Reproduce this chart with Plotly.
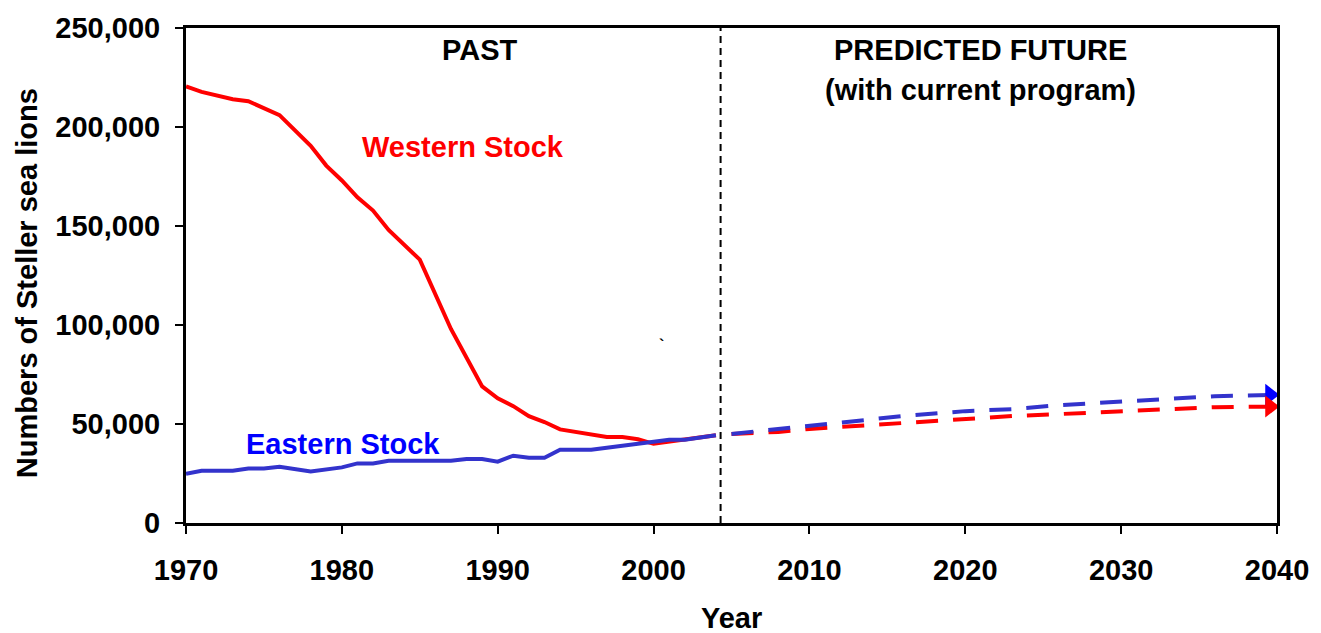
import plotly.graph_objects as go

# ---- data ----
past_years = [1970, 1971, 1973, 1974, 1976, 1978, 1979, 1980, 1981, 1982, 1983, 1985,
              1987, 1989, 1990, 1991, 1992, 1993, 1994, 1995, 1996, 1997, 1998, 1999,
              2000, 2001, 2002, 2003, 2004]
western_past = [220500, 217700, 214000, 213000, 206000, 190500, 180500, 173000, 164500,
                157800, 148000, 133000, 98000, 69000, 63000, 59000, 54000, 51000, 47300,
                46000, 44300, 43400, 43400, 42300, 40000, 41000, 42000, 43000, 44300]

east_years = [1970, 1971, 1973, 1974, 1975, 1976, 1978, 1980, 1981, 1982, 1983, 1987,
              1988, 1989, 1990, 1991, 1992, 1993, 1994, 1996, 1997, 1998, 1999, 2000,
              2001, 2002, 2003, 2004]
eastern_past = [24800, 26400, 26400, 27500, 27500, 28400, 26000, 28100, 30100, 30100,
                31400, 31400, 32300, 32300, 31000, 34000, 33000, 33000, 37000, 37000,
                38000, 39000, 40000, 41000, 42000, 42000, 43200, 44300]

future_years = [2005, 2008, 2010, 2013, 2016, 2020, 2023, 2026, 2029, 2032, 2036, 2040]
eastern_future = [45000, 47500, 49000, 52000, 54000, 56500, 57500, 59500, 61000, 62500, 64000, 64800]
western_future = [45000, 46000, 47500, 49000, 51000, 52500, 54000, 55000, 56000, 57500, 58500, 58800]

x_ticks = [1970, 1980, 1990, 2000, 2010, 2020, 2030, 2040]
y_ticks = [0, 50000, 100000, 150000, 200000, 250000]
y_tick_labels = ["0", "50,000", "100,000", "150,000", "200,000", "250,000"]
divider_year = 2004.3

RED = "#ff0000"
BLUE_LINE = "#3333cc"
BLUE_TEXT = "#0000ff"
FONT = "Liberation Sans, Arial, sans-serif"
FS = 29

fig = go.Figure()

fig.add_trace(go.Scatter(x=past_years, y=western_past, mode="lines",
                         line=dict(color=RED, width=4), showlegend=False))
fig.add_trace(go.Scatter(x=east_years, y=eastern_past, mode="lines",
                         line=dict(color=BLUE_LINE, width=4), showlegend=False))
fig.add_trace(go.Scatter(x=future_years, y=western_future, mode="lines",
                         line=dict(color=RED, width=4, dash="22px,15px"), showlegend=False))
fig.add_trace(go.Scatter(x=future_years, y=eastern_future, mode="lines",
                         line=dict(color=BLUE_LINE, width=4, dash="22px,15px"), showlegend=False))
# arrow heads
fig.add_trace(go.Scatter(x=[future_years[-1] - 0.45], y=[eastern_future[-1]], mode="markers",
                         marker=dict(symbol="triangle-right", size=19, color="#0000ff"),
                         cliponaxis=False, showlegend=False))
fig.add_trace(go.Scatter(x=[future_years[-1] - 0.45], y=[western_future[-1]], mode="markers",
                         marker=dict(symbol="triangle-right", size=19, color=RED),
                         cliponaxis=False, showlegend=False))

# divider
fig.add_shape(type="line", x0=divider_year, x1=divider_year, y0=0, y1=1, yref="paper",
              line=dict(color="black", width=2, dash="7px,5px"))

bold = dict(family=FONT, size=FS, color="black", weight="bold")

fig.add_annotation(x=1988.8, y=239000, text="PAST", showarrow=False, font=bold)
fig.add_annotation(x=2021.0, y=239000, text="PREDICTED FUTURE", showarrow=False, font=bold)
fig.add_annotation(x=2021.0, y=218500, text="(with current program)", showarrow=False, font=bold)
fig.add_annotation(x=1987.8, y=190000, text="Western Stock", showarrow=False,
                   font=dict(family=FONT, size=FS, color=RED, weight="bold"))
fig.add_annotation(x=1980.1, y=39800, text="Eastern Stock", showarrow=False,
                   font=dict(family=FONT, size=FS, color=BLUE_TEXT, weight="bold"))
fig.add_annotation(x=2000.5, y=89500, text="`", showarrow=False,
                   font=dict(family=FONT, size=16, color="black", weight="bold"))

# axis titles
fig.add_annotation(xref="paper", yref="paper", x=0.5, y=-0.192, text="Year",
                   showarrow=False, yanchor="middle", font=bold)
fig.add_annotation(xref="paper", yref="paper", x=-0.1455, y=0.485,
                   text="Numbers of Steller sea lions", textangle=-90,
                   showarrow=False, xanchor="center", yanchor="middle", font=bold)

fig.update_xaxes(range=[1970, 2040], tickvals=x_ticks, ticks="outside", ticklen=8,
                 tickwidth=2, tickcolor="black", showline=True, linecolor="black",
                 linewidth=3, mirror=True, showgrid=False, zeroline=False,
                 tickfont=bold, ticklabelstandoff=11)
fig.update_yaxes(range=[0, 250000], tickvals=y_ticks, ticktext=y_tick_labels,
                 ticks="outside", ticklen=8, tickwidth=2, tickcolor="black",
                 showline=True, linecolor="black", linewidth=3, mirror=True,
                 showgrid=False, zeroline=False, tickfont=bold, ticklabelstandoff=9)

fig.update_layout(width=1321, height=633, plot_bgcolor="white", paper_bgcolor="white",
                  margin=dict(l=186, r=42, t=22, b=110), showlegend=False)

fig.write_html("out.html", config={"displayModeBar": False},
               post_script=["document.body.style.margin='0';document.body.style.overflow='hidden';"])
